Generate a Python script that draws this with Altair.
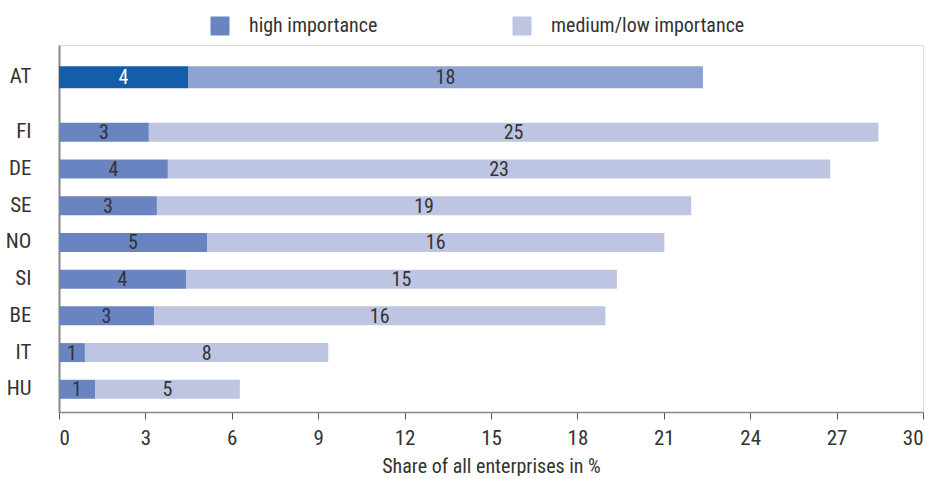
import altair as alt
import pandas as pd

# Share of enterprises (%) rating the topic of high vs. medium/low importance
countries = ["AT", "FI", "DE", "SE", "NO", "SI", "BE", "IT", "HU"]
high = [4.48, 3.12, 3.78, 3.40, 5.14, 4.41, 3.30, 0.90, 1.25]
medium_low = [17.88, 25.33, 23.00, 18.55, 15.88, 14.96, 15.67, 8.45, 5.03]
x_ticks = [0, 3, 6, 9, 12, 15, 18, 21, 24, 27, 30]

# Row order on the y band scale; unlabelled spacer rows set Austria apart
# from the comparison countries and space the others evenly.
row_order = [
    "AT", "gap-1", "gap-2",
    "FI", "gap-3", "DE", "gap-4", "SE", "gap-5", "NO", "gap-6",
    "SI", "gap-7", "BE", "gap-8", "IT", "gap-9", "HU",
]

HIGH = "high importance"
MED = "medium/low importance"
AT_HIGH = "Austria: high importance"
AT_MED = "Austria: medium/low importance"

FONT = "Roboto Condensed, Liberation Sans Narrow, Roboto, sans-serif"
TEXT = "#333333"

rows = []
for c, h, m in zip(countries, high, medium_low):
    home = c == "AT"
    rows.append({"country": c, "part": 0, "value": h, "series": AT_HIGH if home else HIGH})
    rows.append({"country": c, "part": 1, "value": m, "series": AT_MED if home else MED})
df = pd.DataFrame(rows)

x_scale = alt.Scale(domain=[0, 30], nice=False, zero=True)
y_scale = alt.Scale(domain=row_order, paddingInner=0, paddingOuter=0.994, align=0.63)
color_scale = alt.Scale(
    domain=[HIGH, MED, AT_HIGH, AT_MED],
    range=["#6A84C2", "#BEC5E3", "#135DAA", "#8FA3D3"],
)
legend = alt.Legend(
    values=[HIGH, MED],
    title=None,
    orient="none",
    direction="horizontal",
    legendX=151,
    legendY=-29,
    symbolType="square",
    symbolSize=361,
    symbolStrokeWidth=0,
    labelFontSize=20,
    labelFont=FONT,
    labelColor=TEXT,
    labelOffset=19,
    labelLimit=400,
    columnPadding=134,
    padding=0,
)
y_axis = alt.Axis(
    values=countries,
    title=None,
    ticks=False,
    grid=False,
    domainColor="#888888",
    domainWidth=2,
    labelPadding=28,
    labelFontSize=21,
    labelFont=FONT,
    labelColor=TEXT,
)
x_axis = alt.Axis(
    values=x_ticks,
    title="Share of all enterprises in %",
    titleFont=FONT,
    titleFontSize=20,
    titleFontWeight="normal",
    titleColor=TEXT,
    titlePadding=8,
    grid=False,
    tickSize=7,
    tickColor="#555555",
    domainColor="#888888",
    domainWidth=1.5,
    labelPadding=8,
    labelFontSize=21,
    labelFont=FONT,
    labelColor=TEXT,
)

base = (
    alt.Chart(df)
    .transform_stack(
        stack="value",
        groupby=["country"],
        sort=[alt.SortField("part", order="ascending")],
        as_=["x0", "x1"],
    )
    .transform_calculate(mid="(datum.x0 + datum.x1) / 2")
)
y = alt.Y("country:N", scale=y_scale, axis=y_axis)

bars = base.mark_bar().encode(
    x=alt.X("x0:Q", scale=x_scale, axis=x_axis),
    x2="x1:Q",
    y=y,
    size=alt.condition("datum.country == 'AT'", alt.value(22), alt.value(19)),
    color=alt.Color("series:N", scale=color_scale, legend=legend),
)
labels = base.mark_text(font=FONT, fontSize=20, baseline="middle", dy=1).encode(
    x=alt.X("mid:Q", scale=x_scale),
    y=y,
    text=alt.Text("value:Q", format=".0f"),
    color=alt.condition(
        f"datum.series == '{AT_HIGH}'", alt.value("white"), alt.value(TEXT)
    ),
)

chart = (
    alt.layer(bars, labels)
    .properties(
        width=864,
        height=367,
        padding={"left": 5, "top": 16, "right": 0, "bottom": 0},
    )
    .configure_view(fill="#EBEBEE", stroke=None, strokeWidth=0)
    .configure(background="white")
)

chart.save("out.html", embed_options={"renderer": "svg", "actions": False})
